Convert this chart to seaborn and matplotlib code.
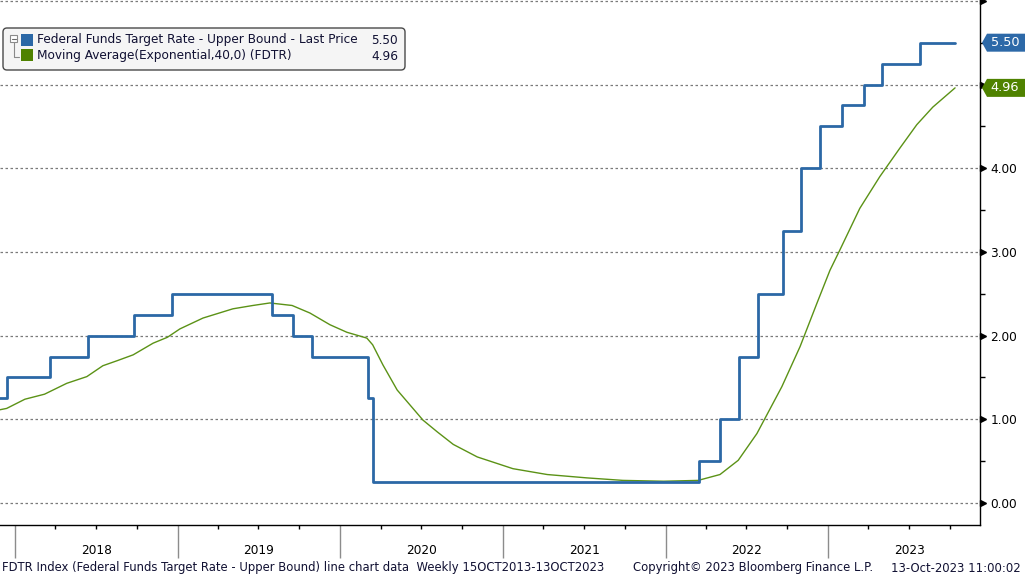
import pandas as pd
import matplotlib.pyplot as plt
import matplotlib.dates as mdates
import matplotlib.transforms as mtransforms
from matplotlib.patches import FancyBboxPatch, Rectangle, Polygon
from matplotlib.lines import Line2D
from matplotlib.ticker import MultipleLocator, FuncFormatter, NullFormatter
import seaborn as sns

# Fed funds upper bound: change dates and level after each change
RATE_DATES = ['2017-11-24', '2017-12-13', '2018-03-21', '2018-06-13', '2018-09-26',
              '2018-12-19', '2019-07-31', '2019-09-18', '2019-10-30', '2020-03-03',
              '2020-03-15', '2022-03-16', '2022-05-04', '2022-06-15', '2022-07-27',
              '2022-09-21', '2022-11-02', '2022-12-14', '2023-02-01', '2023-03-22',
              '2023-05-03', '2023-07-26', '2023-10-13']
RATE_VALUES = [1.25, 1.50, 1.75, 2.00, 2.25,
               2.50, 2.25, 2.00, 1.75, 1.25,
               0.25, 0.50, 1.00, 1.75, 2.50,
               3.25, 4.00, 4.50, 4.75, 5.00,
               5.25, 5.50, 5.50]

# 40-week EMA
EMA_DATES = ['2017-11-24', '2017-12-13', '2018-01-23', '2018-03-08', '2018-04-27',
             '2018-06-11', '2018-07-17', '2018-08-18', '2018-09-23', '2018-11-07',
             '2018-12-09', '2019-01-06', '2019-02-27', '2019-05-05', '2019-06-19',
             '2019-07-27', '2019-09-15', '2019-10-25', '2019-12-09', '2020-01-16',
             '2020-03-01', '2020-03-14', '2020-04-06', '2020-05-08', '2020-06-06',
             '2020-07-05', '2020-08-06', '2020-09-11', '2020-11-04', '2021-01-23',
             '2021-04-10', '2021-07-08', '2021-09-27', '2021-12-27', '2022-03-15',
             '2022-05-03', '2022-06-13', '2022-07-25', '2022-09-19', '2022-10-30',
             '2022-12-07', '2023-01-05', '2023-01-27', '2023-03-13', '2023-04-27',
             '2023-06-11', '2023-07-19', '2023-08-24', '2023-10-13']
EMA_VALUES = [1.11, 1.13, 1.24, 1.30, 1.43,
              1.51, 1.64, 1.70, 1.77, 1.91,
              1.98, 2.08, 2.21, 2.32, 2.36,
              2.39, 2.36, 2.27, 2.13, 2.04,
              1.97, 1.89, 1.65, 1.35, 1.17,
              0.99, 0.85, 0.70, 0.55, 0.41,
              0.34, 0.30, 0.27, 0.26, 0.27,
              0.34, 0.51, 0.83, 1.39, 1.87,
              2.39, 2.78, 3.02, 3.52, 3.90,
              4.24, 4.52, 4.73, 4.96]

YEARS = [2018, 2019, 2020, 2021, 2022, 2023]
RATE_LABEL = "Federal Funds Target Rate - Upper Bound - Last Price"
EMA_LABEL = "Moving Average(Exponential,40,0) (FDTR)"
FOOTER_LEFT = "FDTR Index (Federal Funds Target Rate - Upper Bound) line chart data  Weekly 15OCT2013-13OCT2023"
FOOTER_MID = "Copyright\u00a9 2023 Bloomberg Finance L.P."
FOOTER_RIGHT = "13-Oct-2023 11:00:02"

BLUE = '#2b68a6'
GREEN = '#5b9216'
BLUE_BOX = '#2d69a8'
GREEN_BOX = '#4f8200'
FS = 8.7
FS_FOOT = 8.4

sns.set_theme(style="white")
plt.rcParams['font.family'] = ['DejaVu Sans']

W, H = 1025, 577
fig = plt.figure(figsize=(W / 100, H / 100), dpi=100)
fig.patch.set_facecolor('white')
ax = fig.add_axes([0, 52 / H, 980 / W, 525 / H])
ax.set_facecolor('white')

rate = pd.DataFrame({'date': pd.to_datetime(RATE_DATES), 'value': RATE_VALUES})
ema = pd.DataFrame({'date': pd.to_datetime(EMA_DATES), 'value': EMA_VALUES})

sns.lineplot(data=ema, x='date', y='value', color=GREEN, linewidth=1.0, ax=ax, zorder=2)
sns.lineplot(data=rate, x='date', y='value', color=BLUE, linewidth=2.0,
             drawstyle='steps-post', ax=ax, zorder=3)

ax.set_xlim(pd.Timestamp('2017-11-28'), pd.Timestamp('2023-12-08'))
ax.set_ylim(-0.263, 6.01)
ax.set_xlabel('')
ax.set_ylabel('')

for side in ['left', 'top']:
    ax.spines[side].set_visible(False)
for side in ['right', 'bottom']:
    ax.spines[side].set_color('black')
    ax.spines[side].set_linewidth(1)

# y axis on the right (5.00 label sits under the EMA tag, 6.00 is cut off)
ax.yaxis.tick_right()
ax.set_yticks(range(7))
ax.yaxis.set_major_formatter(FuncFormatter(lambda v, p: '' if v > 4.5 else f'{v:.2f}'))
ax.yaxis.set_minor_locator(MultipleLocator(0.5))
ax.tick_params(axis='y', which='both', right=True, left=False)
ax.tick_params(axis='y', which='major', length=0, pad=7.5, labelsize=FS, labelcolor='black')
ax.tick_params(axis='y', which='minor', length=3.5, width=1, color='black', direction='out')
tri = mtransforms.blended_transform_factory(ax.transAxes, ax.transData) + \
    mtransforms.ScaledTranslation(2.5 / 72, 0, fig.dpi_scale_trans)
ax.plot([1.0] * 7, range(7), transform=tri, marker='>', ms=5, color='black',
        ls='none', clip_on=False, zorder=5)
ax.yaxis.grid(True, which='major', linestyle=(0, (2, 2)), color='#7a7a7a', linewidth=0.9)
ax.xaxis.grid(False)

# x axis: year boundaries + quarters
ax.xaxis.set_major_locator(mdates.YearLocator())
ax.xaxis.set_minor_locator(mdates.MonthLocator(bymonth=[4, 7, 10]))
ax.xaxis.set_major_formatter(NullFormatter())
ax.xaxis.set_minor_formatter(NullFormatter())
ax.tick_params(axis='x', which='both', bottom=True, top=False)
ax.tick_params(axis='x', which='major', length=24, width=1, color='#8c8c8c', direction='out')
ax.tick_params(axis='x', which='minor', length=3, width=1, color='black', direction='out')
ytr = mtransforms.blended_transform_factory(ax.transData, fig.transFigure)
for yr in YEARS:
    ax.text(pd.Timestamp(f'{yr}-07-02'), (H - 550) / H, str(yr), transform=ytr,
            ha='center', va='center', fontsize=FS, color='black')

# legend box (pixel coordinates)
ident = mtransforms.IdentityTransform()
fig.add_artist(FancyBboxPatch((3, H - 70), 402, 42, boxstyle='round,pad=0,rounding_size=4',
                              fc='#f5f5f5', ec='#4a4a4a', lw=1, transform=ident, zorder=6))
fig.add_artist(Rectangle((10, H - 42), 7, 7, fc='white', ec='#8a8a8a', lw=0.8, transform=ident, zorder=7))
fig.add_artist(Line2D([11.5, 15.5], [H - 38.5, H - 38.5], color='#6a6a6a', lw=0.8, transform=ident, zorder=7))
fig.add_artist(Line2D([13.5, 13.5, 19], [H - 42, H - 57, H - 57], color='#8a8a8a', lw=0.8,
                      transform=ident, zorder=7))
fig.add_artist(Rectangle((21, H - 46), 12, 12, fc=BLUE, ec='none', transform=ident, zorder=7))
fig.add_artist(Rectangle((21, H - 61), 12, 12, fc=GREEN_BOX, ec='none', transform=ident, zorder=7))
fig.text(37, H - 40, RATE_LABEL, transform=ident, va='center', ha='left', fontsize=FS, color='#111133', zorder=8)
fig.text(37, H - 56, EMA_LABEL, transform=ident, va='center', ha='left', fontsize=FS, color='#111133', zorder=8)
fig.text(398, H - 40, f'{RATE_VALUES[-1]:.2f}', transform=ident, va='center', ha='right', fontsize=FS,
         color='#111133', zorder=8)
fig.text(398, H - 56, f'{EMA_VALUES[-1]:.2f}', transform=ident, va='center', ha='right', fontsize=FS,
         color='#111133', zorder=8)

# last value tags on the right axis
for val, col in [(RATE_VALUES[-1], BLUE_BOX), (EMA_VALUES[-1], GREEN_BOX)]:
    yd = ax.transData.transform((0, val))[1]
    hh = 9
    fig.add_artist(Polygon([(982, yd), (987, yd + hh), (W + 2, yd + hh), (W + 2, yd - hh), (987, yd - hh)],
                           closed=True, fc=col, ec='none', transform=ident, zorder=6))
    fig.text(1005, yd, f'{val:.2f}', transform=ident, ha='center', va='center', fontsize=FS + 0.6,
             color='white', zorder=8)

# footer
fig.text(2, H - 568, FOOTER_LEFT, transform=ident, ha='left', va='center', fontsize=FS_FOOT, color='#111133')
fig.text(633, H - 568, FOOTER_MID, transform=ident, ha='left', va='center', fontsize=FS_FOOT, color='#111133')
fig.text(1021, H - 568, FOOTER_RIGHT, transform=ident, ha='right', va='center', fontsize=FS_FOOT,
         color='#111133')

fig.savefig('out.png', dpi=100, facecolor='white')
